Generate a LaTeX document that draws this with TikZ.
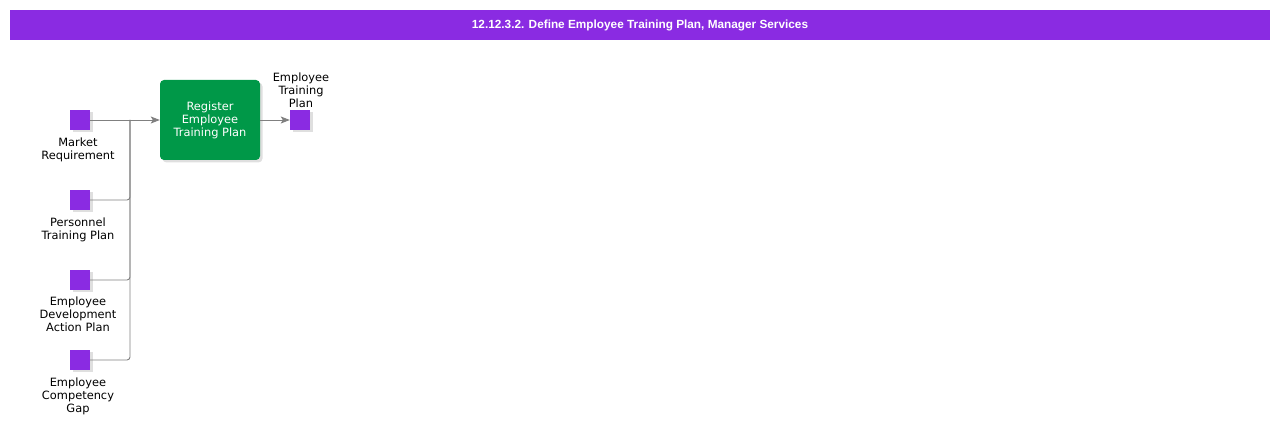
\documentclass[tikz,border=0pt]{standalone}
\usepackage{fontspec}
\setmainfont{DejaVu Sans}
\newfontfamily\titlefont{Liberation Sans}
\usetikzlibrary{shadows,arrows.meta}
\definecolor{violetbar}{RGB}{138,43,226}
\definecolor{taskgreen}{RGB}{0,152,72}
\definecolor{linegray}{RGB}{128,128,128}

\tikzset{
	flow/.style={draw=linegray, line width=0.9pt, rounded corners=3pt},
	flowtip/.style={-{Stealth[length=9pt,width=7pt,inset=2pt]}},
	datasq/.style={fill=violetbar, minimum size=20pt, inner sep=0pt,
		drop shadow={shadow xshift=2.5pt, shadow yshift=-2.5pt, fill=black!25}},
	datalbl/.style={font=\fontsize{11.4}{13}\selectfont, align=center, inner sep=0pt},
}

\begin{document}
\begin{tikzpicture}[x=1pt,y=-1pt]
	\path[use as bounding box] (0,0) rectangle (1280,427);
	% title bar
	\node[fill=violetbar, minimum width=1260pt, minimum height=30pt, inner sep=0pt,
		text=white, font=\titlefont\bfseries\fontsize{11.8}{13}\selectfont] (title) at (640,25)
		{12.12.3.2. Define Employee Training Plan, Manager Services};

	% task
	\node[fill=taskgreen, rounded corners=4pt, minimum width=100pt, minimum height=80pt,
		text=white, align=center, font=\fontsize{11.4}{13}\selectfont,
		drop shadow={shadow xshift=2.5pt, shadow yshift=-2.5pt, fill=black!25}] (task) at (210,120)
		{Register\\Employee\\Training Plan};

	% inputs
	\node[datasq] (mreq) at (80,120) {};
	\node[datasq] (ptp) at (80,200) {};
	\node[datasq] (edap) at (80,280) {};
	\node[datasq] (ecg) at (80,360) {};
	\node[datalbl, anchor=north] (mreqlbl) at (78,138) {Market\\Requirement};
	\node[datalbl, anchor=north] (ptplbl) at (78,218) {Personnel\\Training Plan};
	\node[datalbl, anchor=north] (edaplbl) at (78,297) {Employee\\Development\\Action Plan};
	\node[datalbl, anchor=north] (ecglbl) at (78,378) {Employee\\Competency\\Gap};

	% output
	\node[datasq] (etp) at (300,120) {};
	\node[datalbl, anchor=south] (etplbl) at (301,108) {Employee\\Training\\Plan};

	% connectors
	\coordinate (join) at (130,120);
	\draw[flow, flowtip] (mreq.east) -- (task.west);
	\draw[flow] (ptp.east) -| (join);
	\draw[flow] (edap.east) -| (join);
	\draw[flow] (ecg.east) -| (join);
	\draw[flow, flowtip] (task.east) -- (etp.west);
\end{tikzpicture}
\end{document}
